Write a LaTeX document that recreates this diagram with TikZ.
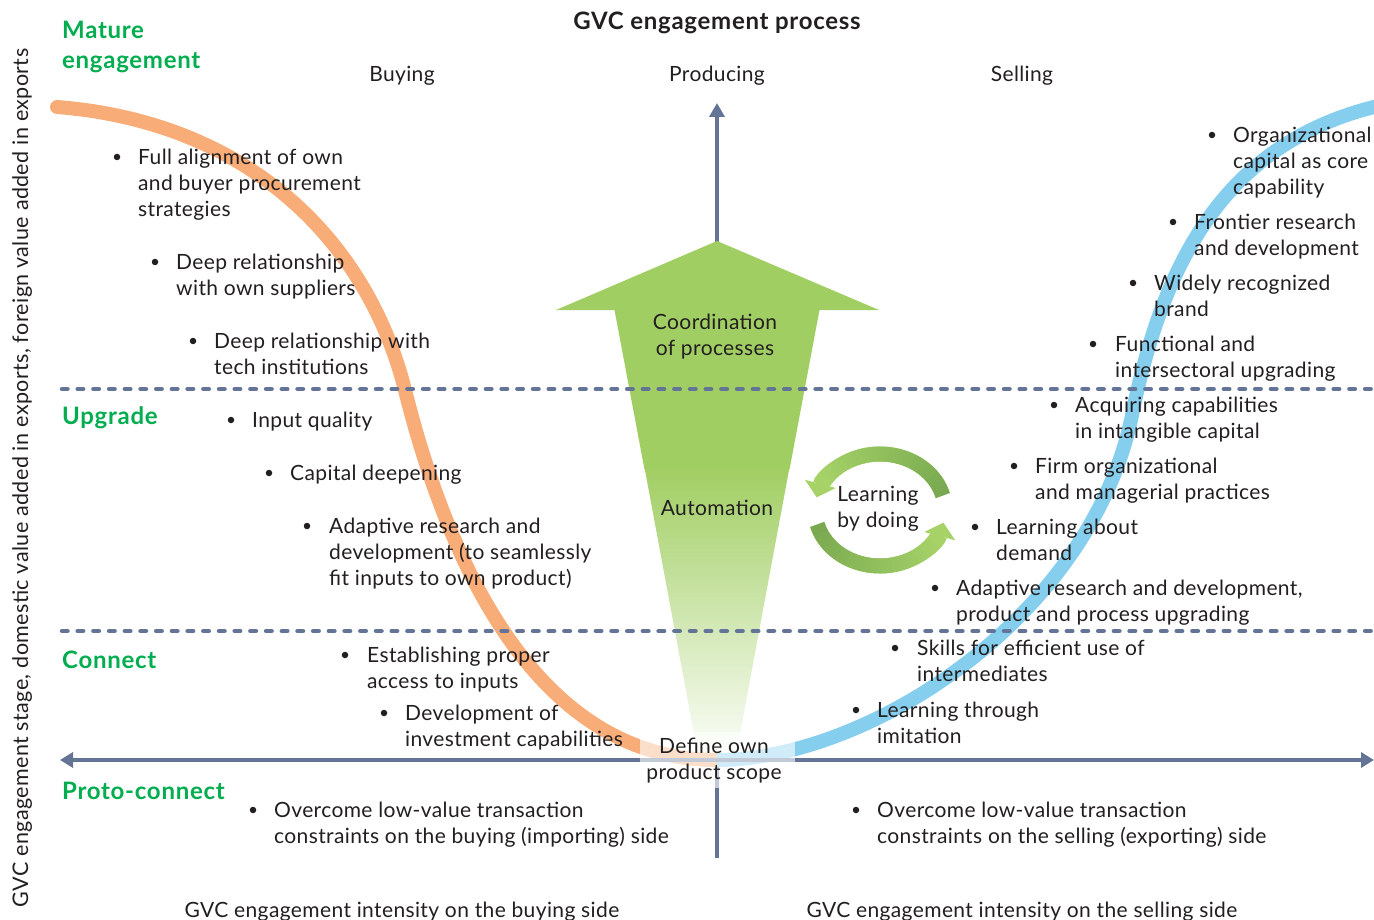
\documentclass[tikz,border=0pt]{standalone}
\usepackage{fontspec}
\setmainfont{Lato}[LetterSpace=1.8]
\newfontfamily\hfont{Lato}[LetterSpace=3]
\usetikzlibrary{arrows.meta}
\definecolor{txt}{RGB}{35,31,32}
\definecolor{gtxt}{RGB}{0,173,79}
\definecolor{slate}{RGB}{99,116,150}
\definecolor{orangec}{RGB}{248,173,120}
\definecolor{bluec}{RGB}{133,206,238}
\definecolor{agreen}{RGB}{161,206,99}
\definecolor{cdark}{RGB}{120,168,80}
\definecolor{clight}{RGB}{166,210,104}
\newcommand\fbody{\fontsize{21}{25.8}\selectfont}
\newcommand\fbold{\hfont\fontsize{24}{30}\selectfont\bfseries}
\tikzset{
  item/.style={anchor=north west, align=left, inner sep=0pt, font=\fbody, text=txt},
  ctext/.style={anchor=north, align=center, inner sep=0pt, font=\fbody, text=txt},
  glabel/.style={anchor=north west, align=left, inner sep=0pt, font=\fbold, text=gtxt},
  dot/.style={circle, fill=txt, inner sep=0pt, minimum size=6.5pt},
  axisline/.style={draw=slate, line width=3.6pt},
  dashline/.style={draw=slate, line width=4.5pt, line cap=round, dash pattern=on 5.5pt off 10.2pt},
  curve/.style={line width=14pt},
  cyc/.style={line width=15pt},
}
\begin{document}
\begin{tikzpicture}[x=1pt,y=-1pt]
\useasboundingbox (0,0) rectangle (1374,920);
\fill[white] (0,0) rectangle (1374,920);

% vertical axis
\coordinate (vb) at (717,858);
\coordinate (vt) at (717,103);
\draw[axisline, -{Triangle[width=15pt,length=14pt]}] (vb) -- (vt);

% big green arrow
\fill[agreen] (717,241) -- (879,310) -- (819.5,310) -- (789.6,469) -- (644.4,469) -- (614.5,310) -- (556,310) -- cycle;
\shade[top color=agreen, bottom color=white] (644.6,468) -- (789.4,468) -- (734,766) -- (700,766) -- cycle;

% curves
\coordinate (os) at (57,107);
\coordinate (om) at (405,390);
\coordinate (oe) at (717,760);
\draw[orangec, curve, line cap=round] (os) .. controls (248,122) and (367,240) .. (om) .. controls (450,570) and (540,760) .. (oe);
\coordinate (bm) at (1131,420);
\coordinate (be) at (1374,107);
\coordinate (bx) at (1400,101);
\draw[bluec, curve] (oe) .. controls (867,760) and (1087,620) .. (bm) .. controls (1159,280) and (1214,147) .. (be) -- (bx);

% horizontal axis
\coordinate (hl) at (60,760);
\coordinate (hr) at (1374,760);
\draw[axisline, {Triangle[width=15pt,length=13pt]}-{Triangle[width=15pt,length=13pt]}] (hl) -- (hr);

% dashed stage lines
\coordinate (d1l) at (62,389); \coordinate (d1r) at (1374,389);
\coordinate (d2l) at (62,631); \coordinate (d2r) at (1374,631);
\draw[dashline] (d1l) -- (d1r);
\draw[dashline] (d2l) -- (d2r);

% learning by doing cycle
\begin{scope}[shift={(880,510)}, x=1pt, y=1pt]
  \draw[cyc, clight, -{Triangle[width=31pt,length=14pt]}] (15:65 and 56) arc[start angle=15, end angle=167, x radius=65, y radius=56];
  \foreach \i in {0,...,29}{
    \pgfmathsetmacro\a{15+\i*4.5}
    \pgfmathsetmacro\b{\a+5}
    \pgfmathsetmacro\p{100-\i*100/29}
    \draw[cyc, cdark!\p!clight] (\a:65 and 56) arc[start angle=\a, end angle=\b, x radius=65, y radius=56];
  }
  \draw[cyc, clight, -{Triangle[width=31pt,length=14pt]}] (195:65 and 56) arc[start angle=195, end angle=347, x radius=65, y radius=56];
  \foreach \i in {0,...,29}{
    \pgfmathsetmacro\a{195+\i*4.5}
    \pgfmathsetmacro\b{\a+5}
    \pgfmathsetmacro\p{100-\i*100/29}
    \draw[cyc, cdark!\p!clight] (\a:65 and 56) arc[start angle=\a, end angle=\b, x radius=65, y radius=56];
  }
\end{scope}

% translucent box at origin
\fill[white, opacity=0.62] (640,732) rectangle (795,788);

% title and headings
\node[anchor=base, inner sep=0pt, font=\fbold, text=txt] (title) at (717,29.6) {GVC engagement process};
\node[ctext] (buy) at (402,63.5) {\strut Buying};
\node[ctext] (prod) at (717,63.5) {\strut Producing};
\node[ctext] (sell) at (1022,63.5) {\strut Selling};

% stage labels
\node[glabel] (mature) at (62,17.6) {\strut Mature\\engagement};
\node[glabel] (upgrade) at (62,403.6) {\strut Upgrade};
\node[glabel] (connect) at (62,647.6) {\strut Connect};
\node[glabel] (proto) at (62,778.6) {\strut Proto-connect};

% axis titles
\node[anchor=base, rotate=90, inner sep=0pt, font=\fontsize{21.5}{26}\selectfont, text=txt] (ylab) at (28,478) {GVC engagement stage, domestic value added in exports, foreign value added in exports};
\node[anchor=base, inner sep=0pt, font=\fbody, text=txt] (xlab1) at (402,917) {GVC engagement intensity on the buying side};
\node[anchor=base, inner sep=0pt, font=\fbody, text=txt] (xlab2) at (1022,917) {GVC engagement intensity on the selling side};

% arrow texts
\node[ctext] (coord) at (715,311.5) {\strut Coordination\\of processes};
\node[ctext] (auto) at (717,497.5) {\strut Automation};
\node[ctext] (lbd) at (878,483.5) {\strut Learning\\by doing};
\node[ctext] (scope) at (714,735.5) {\strut Define own\\product scope};

% left items
\node[dot] (b1) at (117,157) {};
\node[item] (t1) at (138,146.5) {\strut Full alignment of own\\and buyer procurement\\strategies};
\node[dot] (b2) at (155,262) {};
\node[item] (t2) at (176,251.5) {\strut Deep relationship\\with own suppliers};
\node[dot] (b3) at (193,341) {};
\node[item] (t3) at (214,330.5) {\strut Deep relationship with\\tech institutions};
\node[dot] (b4) at (231,420) {};
\node[item] (t4) at (252,409.5) {\strut Input quality};
\node[dot] (b5) at (269,473) {};
\node[item] (t5) at (290,462.5) {\strut Capital deepening};
\node[dot] (b6) at (307,526) {};
\node[item] (t6) at (329,515.5) {\strut Adaptive research and\\development (to seamlessly\\fit inputs to own product)};
\node[dot] (b7) at (345,655) {};
\node[item] (t7) at (367,644.5) {\strut Establishing proper\\access to inputs};
\node[dot] (b8) at (384,713) {};
\node[item] (t8) at (405,702.5) {\strut Development of\\investment capabilities};
\node[dot] (b9) at (253,810) {};
\node[item] (t9) at (274,799.5) {\strut Overcome low-value transaction\\constraints on the buying (importing) side};

% right items
\node[dot] (r1) at (1212,135) {};
\node[item] (s1) at (1233,124.5) {\strut Organizational\\capital as core\\capability};
\node[dot] (r2) at (1173,222) {};
\node[item] (s2) at (1194,211.5) {\strut Frontier research\\and development};
\node[dot] (r3) at (1133,283) {};
\node[item] (s3) at (1154,272.5) {\strut Widely recognized\\brand};
\node[dot] (r4) at (1093,344) {};
\node[item] (s4) at (1115,333.5) {\strut Functional and\\intersectoral upgrading};
\node[dot] (r5) at (1054,405) {};
\node[item] (s5) at (1075,394.5) {\strut Acquiring capabilities\\in intangible capital};
\node[dot] (r6) at (1014,466) {};
\node[item] (s6) at (1035,455.5) {\strut Firm organizational\\and managerial practices};
\node[dot] (r7) at (975,527) {};
\node[item] (s7) at (996,516.5) {\strut Learning about\\demand};
\node[dot] (r8) at (935,588) {};
\node[item] (s8) at (956,577.5) {\strut Adaptive research and development,\\product and process upgrading};
\node[dot] (r9) at (895,648) {};
\node[item] (s9) at (917,637.5) {\strut Skills for efficient use of\\intermediates};
\node[dot] (r10) at (856,710) {};
\node[item] (s10) at (877,699.5) {\strut Learning through\\imitation};
\node[dot] (r11) at (856,810) {};
\node[item] (s11) at (877,799.5) {\strut Overcome low-value transaction\\constraints on the selling (exporting) side};
\end{tikzpicture}
\end{document}
